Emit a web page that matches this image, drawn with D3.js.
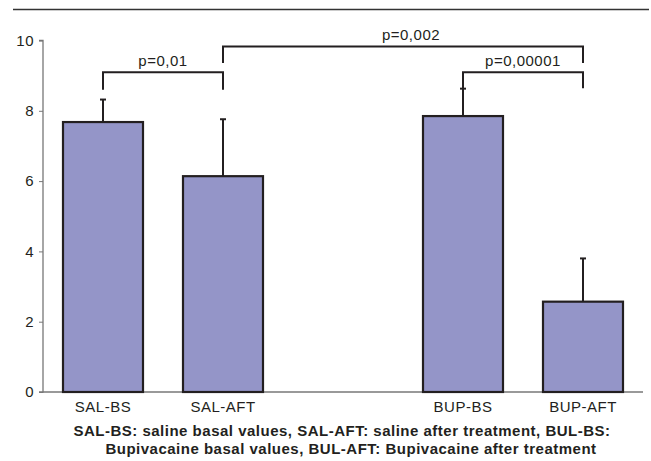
<!DOCTYPE html>
<html>
<head>
<meta charset="utf-8">
<script src="https://cdn.jsdelivr.net/npm/d3@7"></script>
<style>
  body { margin: 0; background: #fff; }
  text { font-family: "Liberation Sans", Arial, sans-serif; fill: #231f20; }
</style>
</head>
<body>
<script>
// data
var groups = ["SAL-BS", "SAL-AFT", "", "BUP-BS", "BUP-AFT"];
var categories = ["SAL-BS", "SAL-AFT", "BUP-BS", "BUP-AFT"];
var means = [7.68, 6.14, 7.85, 2.57];
var upperErr = [8.32, 7.76, 8.63, 3.80];
var yTicks = [0, 2, 4, 6, 8, 10];

// significance brackets: from, to, bar level, leg bottom, label
var bracketFrom = ["SAL-BS", "SAL-AFT", "BUP-BS"];
var bracketTo = ["SAL-AFT", "BUP-AFT", "BUP-AFT"];
var bracketTop = [9.1, 9.83, 9.1];
var bracketLeg = [8.6, 9.36, 8.64];
var bracketLabel = ["p=0,01", "p=0,002", "p=0,00001"];
var labelShift = [0, 8, 0];

var captionLines = [
  "SAL-BS: saline basal values, SAL-AFT: saline after treatment, BUL-BS:",
  "Bupivacaine basal values, BUL-AFT: Bupivacaine after treatment"
];

var W = 651, H = 461;
var svg = d3.select("body").append("svg")
  .attr("width", W)
  .attr("height", H);

//top rule
svg.append("line")
  .attr("x1", 13).attr("x2", 649)
  .attr("y1", 9.5).attr("y2", 9.5)
  .attr("stroke", "#333").attr("stroke-width", 1.3);

var x = d3.scaleBand()
  .domain(groups)
  .range([43, 643])
  .paddingInner(1 / 3)
  .paddingOuter(1 / 6);

var y = d3.scaleLinear()
  .domain([0, 10])
  .range([392, 40.5]);

// y axis
var yAxis = svg.append("g")
  .attr("transform", "translate(43,0)")
  .call(d3.axisLeft(y).tickValues(yTicks).tickSize(4).tickPadding(5));
yAxis.select(".domain").attr("stroke", "#777").attr("stroke-width", 1.3)
  .attr("d", "M-4," + y(10) + "H0V" + y(0) + "H-4");
yAxis.selectAll(".tick line").attr("stroke", "#777");
yAxis.selectAll(".tick text")
  .style("font-size", "15px")
  .style("letter-spacing", "0.5px")
  .attr("fill", "#231f20");

// baseline
svg.append("line")
  .attr("x1", 43).attr("x2", 643)
  .attr("y1", y(0)).attr("y2", y(0))
  .attr("stroke", "#777").attr("stroke-width", 1.3);

// error bars (upper only)
var err = svg.selectAll(".err")
  .data(categories)
  .enter().append("g")
  .attr("class", "err");
err.append("line")
  .attr("x1", function(d) { return x(d) + x.bandwidth() / 2; })
  .attr("x2", function(d) { return x(d) + x.bandwidth() / 2; })
  .attr("y1", function(d, i) { return y(means[i]); })
  .attr("y2", function(d, i) { return y(upperErr[i]); })
  .attr("stroke", "#231f20").attr("stroke-width", 2);
err.append("line")
  .attr("x1", function(d) { return x(d) + x.bandwidth() / 2 - 3; })
  .attr("x2", function(d) { return x(d) + x.bandwidth() / 2 + 3; })
  .attr("y1", function(d, i) { return y(upperErr[i]); })
  .attr("y2", function(d, i) { return y(upperErr[i]); })
  .attr("stroke", "#231f20").attr("stroke-width", 2);

// bars
svg.selectAll(".bar")
  .data(categories)
  .enter().append("rect")
  .attr("class", "bar")
  .attr("x", function(d) { return x(d); })
  .attr("width", x.bandwidth())
  .attr("y", function(d, i) { return y(means[i]); })
  .attr("height", function(d, i) { return y(0) - y(means[i]); })
  .attr("fill", "#9495c8")
  .attr("stroke", "#231f20")
  .attr("stroke-width", 2.2);

// category labels
svg.selectAll(".cat")
  .data(categories)
  .enter().append("text")
  .attr("class", "cat")
  .attr("x", function(d) { return x(d) + x.bandwidth() / 2; })
  .attr("y", 412)
  .attr("text-anchor", "middle")
  .style("font-size", "15px")
  .style("letter-spacing", "0.5px")
  .text(function(d) { return d; });

// brackets
var cx = function(d) { return x(d) + x.bandwidth() / 2; };
bracketLabel.forEach(function(lbl, i) {
  var x1 = cx(bracketFrom[i]), x2 = cx(bracketTo[i]);
  svg.append("path")
    .attr("d", "M" + x1 + "," + y(bracketLeg[i]) + "V" + y(bracketTop[i]) +
      "H" + x2 + "V" + y(bracketLeg[i]))
    .attr("fill", "none")
    .attr("stroke", "#231f20")
    .attr("stroke-width", 2);
  svg.append("text")
    .attr("x", (x1 + x2) / 2 + labelShift[i])
    .attr("y", y(bracketTop[i]) - 6)
    .attr("text-anchor", "middle")
    .style("font-size", "15px")
    .style("letter-spacing", "0.5px")
    .text(lbl);
});

// caption
svg.selectAll(".cap")
  .data(captionLines)
  .enter().append("text")
  .attr("class", "cap")
  .attr("x", function(d, i) { return i == 0 ? 342 : 351; })
  .attr("y", function(d, i) { return 436 + i * 17.5; })
  .attr("text-anchor", "middle")
  .style("font-size", "15px")
  .style("font-weight", "bold")
  .style("letter-spacing", "0.5px")
  .text(function(d) { return d; });
</script>
</body>
</html>
